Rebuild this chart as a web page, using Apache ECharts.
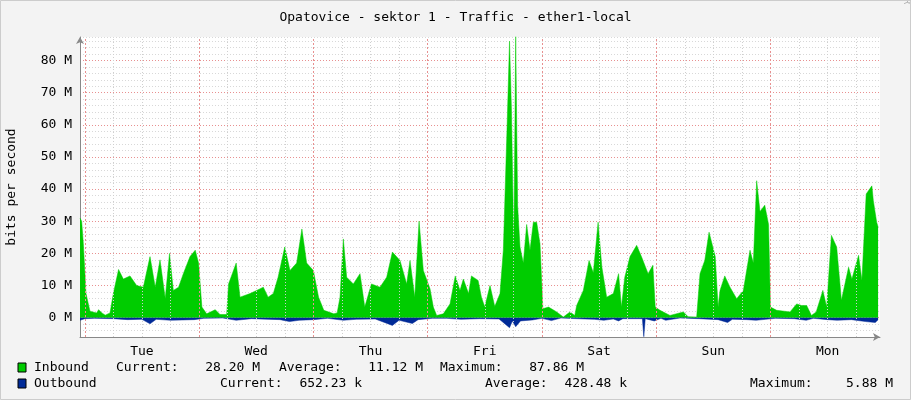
<!DOCTYPE html>
<html><head><meta charset="utf-8">
<script src="https://cdn.jsdelivr.net/npm/echarts@6/dist/echarts.min.js"></script>
<style>html,body{margin:0;padding:0;background:#f3f3f3}#c{width:911px;height:400px}</style>
</head><body><div id="c"></div>
<script>
// hours since Mon 23:00
const dayNames = ['Tue','Wed','Thu','Fri','Sat','Sun','Mon'];
const dayLabelHours = [13,37,61,85,109,133,157];
const midnightHours = [1,25,49,73,97,121,145];
const sixHourLines = [7,13,19,31,37,43,55,61,67,79,85,91,103,109,115,127,133,139,151,157,163];
const yTickLabels = [0,10,20,30,40,50,60,70,80];
const inbound = [[0,31],[0.35,30],[0.7,23],[1.26,7.5],[2.1,2],[3.5,1.5],[3.9,2.5],[4.6,1.5],[5.3,0.8],[6.3,1.5],[7,7.5],[8.1,15],[9.1,12],[10.5,13],[11.9,10],[13.3,9.5],[14.7,19],[15.8,9.5],[16.8,18],[17.9,6],[18.8,20],[19.6,8.5],[20.7,9.5],[21.7,13.7],[23.1,19],[24.2,21],[24.9,17],[25.6,3.3],[26.6,1.2],[28.4,2.5],[29.4,1],[30.8,1],[31.2,10.5],[32.8,17],[33.6,6.4],[35.7,7.5],[37.1,8.5],[38.5,9.5],[39.5,6.4],[40.6,7.5],[41.6,12.6],[43.0,22],[44.1,14.7],[45.5,17],[46.6,27.6],[47.6,17],[49.0,14.7],[50.1,6.4],[51.2,2.3],[53.3,1.2],[54.0,1.5],[54.6,6.4],[55.3,24.5],[56.0,12.6],[57.4,10.5],[58.8,13.7],[59.8,3.3],[61.2,10.5],[63.0,9.5],[64.4,12.6],[65.6,20.4],[67.2,17.8],[68.6,10.5],[69.3,17.8],[70.3,6.4],[71.2,30],[72.1,14.7],[73.5,9],[74.2,3.3],[74.9,0.7],[76.3,1.2],[77.7,4.3],[78.8,13],[79.8,8.5],[80.5,12],[81.6,7.5],[82.2,13],[83.6,11.6],[84.3,6.4],[85.0,3.3],[86.1,10],[87.1,3.5],[88.2,7.5],[88.9,21],[89.7,60],[90.2,86],[90.6,65],[91.1,22],[91.5,87.8],[91.9,35],[92.4,22],[93.1,17],[93.8,29],[94.5,21],[95.2,29.7],[95.9,29.7],[96.6,23],[97.2,2.8],[98.4,3.3],[100.1,1.8],[101.5,0.2],[102.9,1.8],[103.9,0.7],[104.3,3.8],[105.7,8.5],[106.9,17.8],[107.8,14],[108.8,29.7],[109.6,15.7],[110.6,6.4],[112.0,7.5],[113.1,13.7],[113.7,3.3],[114.4,12.6],[115.5,19],[116.9,22.5],[117.9,19],[119.3,13.7],[120.3,16.3],[120.8,3.3],[121.8,2.3],[123.9,0.7],[126.7,1.8],[127.7,0.3],[129.5,0.2],[130.2,13.7],[131.2,17.8],[132.1,26.6],[133.4,19],[134.0,3.3],[134.4,8.5],[135.4,13],[136.5,9.5],[137.9,5.9],[139.3,8.5],[140.7,21],[141.4,17],[142.1,42.6],[142.8,33],[143.8,35],[144.6,29],[145.0,3.3],[146.3,2.3],[149.1,1.8],[150.5,4.3],[151.5,3.8],[152.6,3.8],[153.6,0.7],[154.6,1.8],[156.0,8.5],[156.8,3.3],[157.8,25.6],[158.9,22],[159.9,5.4],[161.4,15.7],[162.1,12],[163.5,19.4],[164.2,11.6],[165.1,38.5],[166.3,41],[166.6,36.4],[167.3,29.7],[167.6,28.2]];
const outbound = [[0,-0.8],[0.2,-1],[1,-0.3],[3,-0.2],[7,-0.3],[10,-0.6],[13,-0.5],[14.7,-1.9],[16,-0.5],[19,-0.8],[24,-0.6],[26,-0.2],[30,-0.1],[32.8,-0.8],[36,-0.3],[42,-0.6],[44,-1.2],[46,-0.8],[49,-0.6],[52,-0.2],[55.3,-0.8],[58,-0.5],[62,-0.4],[65.6,-2.4],[67,-0.8],[69.8,-1.8],[71,-0.6],[74,-0.2],[77,-0.2],[80,-0.5],[84,-0.3],[88,-0.4],[90.2,-3.1],[90.8,-1],[91.5,-2.8],[92.5,-1],[95,-0.7],[97,-0.2],[99,-0.9],[101,-0.1],[106,-0.4],[108,-0.5],[110,-0.8],[112,-0.4],[113.1,-1],[114,-0.3],[118.1,-0.3],[118.4,-5.9],[118.7,-0.3],[120.6,-1],[122,-0.2],[123,-0.8],[126,-0.1],[130,-0.3],[134,-0.6],[136,-1.5],[137,-0.5],[140,-0.6],[142,-0.8],[144,-0.5],[146,-0.2],[150,-0.3],[152.5,-0.8],[154,-0.2],[157,-0.6],[159,-0.8],[162,-0.6],[165,-1.2],[167,-1.5],[167.6,-0.65]];
const inStats = ['28.20 M','11.12 M','87.86 M'];
const outStats = ['652.23 k','428.48 k','5.88 M'];

const mono = 'DejaVu Sans Mono';
const F = '13px "'+mono+'"';
const chart = echarts.init(document.getElementById('c'));
const txt = (x,y,t,align)=>({type:'text',x:x,y:y,style:{text:t,fill:'#000',font:F,textAlign:align||'left',textVerticalAlign:'middle'}});
const vline = (arr,color,type)=>({silent:true,symbol:'none',label:{show:false},lineStyle:{color:color,type:type,width:1,opacity:1},data:arr.map(h=>({xAxis:h}))});
chart.setOption({
  backgroundColor:'#f3f3f3',
  animation:false,
  title:{text:'Opatovice - sektor 1 - Traffic - ether1-local',left:'center',top:6,textStyle:{fontFamily:mono,fontSize:13,fontWeight:'normal',color:'#000'}},
  grid:{left:80,right:31,top:37,bottom:63,backgroundColor:'#fff',show:true,borderWidth:0,outerBoundsMode:'none',containLabel:false},
  xAxis:{type:'value',min:0,max:168,
    axisLine:{onZero:false,lineStyle:{color:'#888'},symbol:['none','arrow'],symbolSize:[6,7]},
    axisTick:{show:false},splitLine:{show:false},
    axisLabel:{customValues:dayLabelHours,formatter:v=>dayNames[dayLabelHours.indexOf(v)]||'',fontFamily:mono,fontSize:13,color:'#000',margin:8}},
  yAxis:{type:'value',min:-6,max:87.3,interval:2,name:'bits per second',nameLocation:'middle',nameGap:62,nameRotate:90,
    nameTextStyle:{fontFamily:mono,fontSize:13,color:'#000'},
    axisLine:{show:true,lineStyle:{color:'#888'},symbol:['none','arrow'],symbolSize:[6,7]},
    axisTick:{show:false},
    splitLine:{lineStyle:{color:['#d8d8d8','#d8d8d8','#d8d8d8','#e89090','#d8d8d8'],type:[1,2]}},
    axisLabel:{fontFamily:mono,fontSize:13,color:'#000',margin:8,
      formatter:v=>yTickLabels.indexOf(v)>=0?(v+' M'):'' ,showMaxLabel:false}},
  series:[
    {type:'line',data:inbound,symbol:'none',lineStyle:{width:0.5,color:'#00cc00'},areaStyle:{color:'#00cc00',opacity:1},z:3,
     markLine:vline(sixHourLines,'#cfcfcf',[1,2])},
    {type:'line',data:outbound,symbol:'none',lineStyle:{width:0.5,color:'#002a97'},areaStyle:{color:'#002a97',opacity:1},z:3,
     markLine:vline(midnightHours,'#e89090',[2,2])}
  ],
  graphic:[
    {type:'text',x:906,y:4,rotation:-Math.PI/2,style:{text:'RRDTOOL / TOBI OETIKER',fill:'#aaa',font:'8px "'+mono+'"',textAlign:'right',textVerticalAlign:'middle'}},
    {type:'rect',shape:{x:18,y:363,width:8,height:9},style:{fill:'#00cc00',stroke:'#000',lineWidth:1}},
    {type:'rect',shape:{x:18,y:379,width:8,height:9},style:{fill:'#002a97',stroke:'#000',lineWidth:1}},
    txt(34,368,'Inbound'),
    txt(116,368,'Current:'),txt(260,368,inStats[0],'right'),
    txt(279,368,'Average:'),txt(423,368,inStats[1],'right'),
    txt(440,368,'Maximum:'),txt(584,368,inStats[2],'right'),
    txt(34,384,'Outbound'),
    txt(220,384,'Current:'),txt(362,384,outStats[0],'right'),
    txt(485,384,'Average:'),txt(627,384,outStats[1],'right'),
    txt(750,384,'Maximum:'),txt(893,384,outStats[2],'right'),
    {type:'rect',shape:{x:0.5,y:0.5,width:910,height:399},style:{fill:'none',stroke:'#ccc',lineWidth:1},silent:true}
  ]
});
</script></body></html>
